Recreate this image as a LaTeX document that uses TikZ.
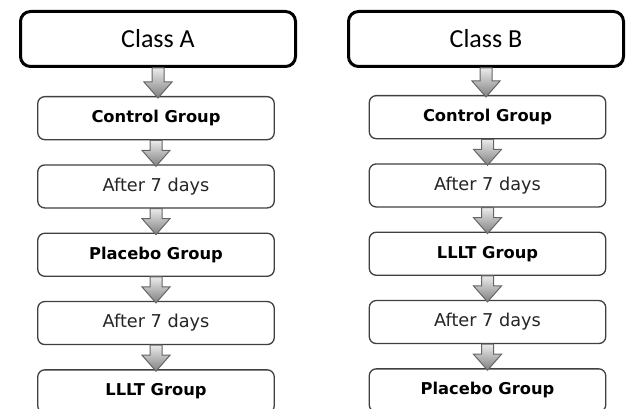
\documentclass[tikz,border=0pt]{standalone}
\usepackage{fontspec}
\usepackage{tikz}
\usetikzlibrary{positioning,calc}
\newfontfamily\titlefont{Carlito}
\newfontfamily\boxfont{DejaVu Sans}

\tikzset{
    classbox/.style={draw=black, line width=3pt, rounded corners=10pt, fill=white,
        minimum width=275pt, minimum height=55pt, inner sep=0pt, text=black,
        font=\titlefont\fontsize{26}{30}\selectfont},
    groupbox/.style={draw=black!75, line width=1.3pt, rounded corners=7pt, fill=white,
        minimum width=236.5pt, minimum height=43pt, inner sep=0pt, text=black,
        font=\boxfont\bfseries\fontsize{16.3}{19}\selectfont},
    waitbox/.style={groupbox, text=black!85, font=\boxfont\fontsize{17.7}{20}\selectfont},
    grayarrow/.style={draw=black!60, line width=1pt, line join=miter,
        top color=black!8, bottom color=black!50},
}

\newcommand{\grayarrow}[2]{%
    \path[grayarrow] let \p1=(#1.south), \p2=(#2.north) in
        (\x1-6pt,\y1) -- (\x1+6pt,\y1) -- (\x1+6pt,\y2+14pt) -- (\x1+14pt,\y2+14pt)
        -- (\x1,\y2-2pt) -- (\x1-14pt,\y2+14pt) -- (\x1-6pt,\y2+14pt) -- cycle;
}

\begin{document}
\begin{tikzpicture}[x=1pt,y=-1pt,node distance=24pt]
    \useasboundingbox (0,0) rectangle (631,409);
    \clip (0,0) rectangle (631,409);

    % Class A
    \node[classbox] (classA) at (158,39) {Class A};
    \node[groupbox, below=28pt of classA.south, anchor=north, xshift=-2pt] (ctrlA) {Control Group};
    \node[waitbox, below=of ctrlA] (waitA1) {After 7 days};
    \node[groupbox, below=of waitA1] (placA) {Placebo Group};
    \node[waitbox, below=of placA] (waitA2) {After 7 days};
    \node[groupbox, below=of waitA2] (llltA) {LLLT Group};

    % Class B
    \node[classbox] (classB) at (486,39) {Class B};
    \node[groupbox, below=27pt of classB.south, anchor=north, xshift=1.5pt] (ctrlB) {Control Group};
    \node[waitbox, below=of ctrlB] (waitB1) {After 7 days};
    \node[groupbox, below=of waitB1] (llltB) {LLLT Group};
    \node[waitbox, below=of llltB] (waitB2) {After 7 days};
    \node[groupbox, below=of waitB2] (placB) {Placebo Group};

    \grayarrow{classA}{ctrlA}
    \grayarrow{ctrlA}{waitA1}
    \grayarrow{waitA1}{placA}
    \grayarrow{placA}{waitA2}
    \grayarrow{waitA2}{llltA}

    \grayarrow{classB}{ctrlB}
    \grayarrow{ctrlB}{waitB1}
    \grayarrow{waitB1}{llltB}
    \grayarrow{llltB}{waitB2}
    \grayarrow{waitB2}{placB}
\end{tikzpicture}
\end{document}
